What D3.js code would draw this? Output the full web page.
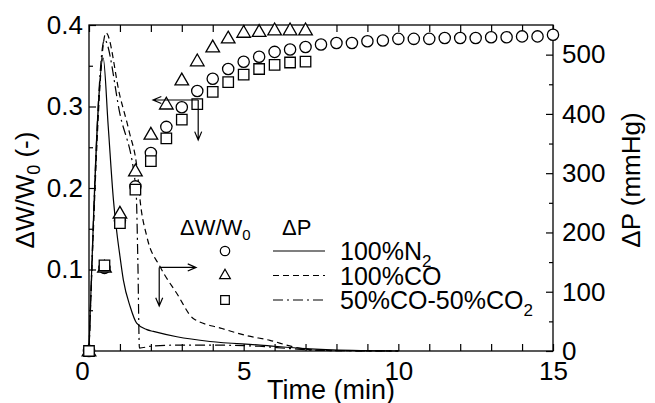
<!DOCTYPE html>
<html>
<head>
<meta charset="utf-8">
<script src="https://cdn.jsdelivr.net/npm/d3@7"></script>
<style>
  body { margin: 0; background: #fff; }
  text { font-family: "Liberation Sans", Arial, sans-serif; fill: #000; font-weight: normal; }
</style>
</head>
<body>
<div id="chart"></div>
<script>
// weight change markers, sampled every 0.5 min
var timeN2 = d3.range(0, 15.01, 0.5);
var wN2 = [0, 0.102, 0.16, 0.202, 0.243, 0.275, 0.299, 0.319, 0.334, 0.346, 0.355, 0.361, 0.367, 0.370, 0.373,
    0.376, 0.378, 0.378, 0.380, 0.381, 0.383, 0.383, 0.383, 0.384, 0.384, 0.384, 0.385, 0.385, 0.386, 0.386, 0.388];
var timeCO = d3.range(0, 7.01, 0.5);
var wCO = [0, 0.103, 0.169, 0.221, 0.266, 0.303, 0.3325, 0.356, 0.373, 0.384, 0.391, 0.392, 0.394, 0.394, 0.394];
var timeMix = d3.range(0, 7.01, 0.5);
var wMix = [0, 0.105, 0.157, 0.198, 0.233, 0.261, 0.284, 0.303, 0.318, 0.330, 0.339, 0.346, 0.351, 0.354, 0.355];

// pressure curves (mmHg)
var pN2Time = [0, 0.46, 0.62, 0.79, 0.9, 1.0, 1.11, 1.33, 1.54, 1.87, 2.08, 2.84, 3.91, 5.53, 7, 8.5, 10];
var pN2 = [0, 494, 380, 255, 200, 160, 120, 75, 47, 36, 33, 24, 16, 10, 4, 1, 0];
var pCOTime = [0, 0.55, 1.0, 1.3, 1.57, 1.65, 1.87, 2.3, 2.84, 3.37, 4.3, 5.1, 5.85, 6.6, 7.5, 10];
var pCO = [0, 537, 430, 370, 300, 255, 193, 142, 97, 55, 38, 26, 18, 7, 1, 0];
var pMixTime = [0, 0.5, 1.0, 1.52, 1.58, 1.63, 2.0, 3, 4, 5, 5.5, 6.5, 7.5, 10];
var pMix = [0, 525, 400, 272, 150, 5, 8, 10, 10, 9, 8, 4, 1, 0];

// tick values
var xTicks = [0, 5, 10, 15];
var wTicks = [0.1, 0.2, 0.3, 0.4];
var pTicks = [0, 100, 200, 300, 400, 500];

// legend
var legendNames = ["100%N", "100%CO", "50%CO-50%CO"];
var legendSubs = ["2", "", "2"];

// arrows, in data units: corner, then horizontal end t and vertical end value
var arrowW = { t: 3.53, w: 0.308, tEnd: 2.07, wEnd: 0.259 };
var arrowP = { t: 2.27, p: 141, tEnd: 3.46, pEnd: 76 };

var margin = { top: 25, right: 102, bottom: 52, left: 89 };
var svgWidth = 655, svgHeight = 403;
var width = svgWidth - margin.left - margin.right;
var height = svgHeight - margin.top - margin.bottom;

var svg = d3.select("#chart").append("svg")
    .attr("width", svgWidth)
    .attr("height", svgHeight);

var chartGroup = svg.append("g")
    .attr("transform", `translate(${margin.left}, ${margin.top})`);

var x = d3.scaleLinear().domain([0, 15]).range([0, width]);
var yW = d3.scaleLinear().domain([0, 0.4]).range([height, 0]);
var yP = d3.scaleLinear().domain([0, 550]).range([height, 0]);

var fs = 26;

// axes with inward ticks
function styleAxis(g) {
    g.select(".domain").remove();
    g.selectAll("line").attr("stroke", "#000").attr("stroke-width", 1.2);
    g.selectAll("text").style("font-size", fs + "px").attr("fill", "#000");
}

chartGroup.append("g")
    .attr("transform", `translate(0, ${height})`)
    .call(d3.axisBottom(x).tickValues(d3.range(0, 16, 1)).tickSize(-7).tickFormat(""))
    .call(styleAxis);
var xLabels = chartGroup.append("g")
    .attr("transform", `translate(0, ${height})`)
    .call(d3.axisBottom(x).tickValues(xTicks).tickSize(0).tickPadding(11))
    .call(styleAxis);
// the shared zero sits a little left of the corner
xLabels.selectAll("text").filter(d => d === 0).attr("x", -7);
chartGroup.append("g")
    .call(d3.axisTop(x).tickValues(d3.range(0, 16, 1)).tickSize(-7).tickFormat(""))
    .call(styleAxis);

chartGroup.append("g")
    .call(d3.axisLeft(yW).tickValues(d3.range(0.05, 0.4, 0.1)).tickSize(-4).tickFormat(""))
    .call(styleAxis);
chartGroup.append("g")
    .call(d3.axisLeft(yW).tickValues(wTicks).tickSize(-7).tickPadding(6).tickFormat(d3.format(".1f")))
    .call(styleAxis);

chartGroup.append("g")
    .attr("transform", `translate(${width}, 0)`)
    .call(d3.axisRight(yP).tickValues(d3.range(50, 550, 100)).tickSize(-4).tickFormat(""))
    .call(styleAxis);
chartGroup.append("g")
    .attr("transform", `translate(${width}, 0)`)
    .call(d3.axisRight(yP).tickValues(pTicks).tickSize(-7).tickPadding(9))
    .call(styleAxis);

// frame
chartGroup.append("rect")
    .attr("width", width).attr("height", height)
    .attr("fill", "none").attr("stroke", "#000").attr("stroke-width", 1.3);

// pressure lines
var dashN2 = null, dashCO = "6,4", dashMix = "10,4,2,4";
var pLine = d3.line()
    .x(d => x(d[0]))
    .y(d => yP(d[1]))
    .curve(d3.curveMonotoneX);

var pSeries = [
    { pts: d3.zip(pN2Time, pN2), dash: dashN2 },
    { pts: d3.zip(pCOTime, pCO), dash: dashCO },
    { pts: d3.zip(pMixTime, pMix), dash: dashMix }
];
pSeries.forEach(function(s) {
    chartGroup.append("path")
        .attr("d", pLine(s.pts))
        .attr("fill", "none")
        .attr("stroke", "#000")
        .attr("stroke-width", 1.2)
        .attr("stroke-dasharray", s.dash);
});

// markers
var circleSym = d3.symbol().type(d3.symbolCircle).size(100);
var triSym = d3.symbol().type(d3.symbolTriangle).size(80);
var sqSym = d3.symbol().type(d3.symbolSquare).size(110);

function drawMarkers(times, vals, sym, dyOff) {
    chartGroup.append("g").selectAll("path")
        .data(d3.zip(times, vals))
        .enter().append("path")
        .attr("d", sym)
        .attr("transform", d => `translate(${x(d[0])}, ${yW(d[1]) + dyOff})`)
        .attr("fill", "#fff")
        .attr("stroke", "#000")
        .attr("stroke-width", 1.3);
}
drawMarkers(timeN2, wN2, circleSym, 0);
drawMarkers(timeCO, wCO, triSym, 1);
drawMarkers(timeMix, wMix, sqSym, 0);

// arrows
function arrow(x1, y1, x2, y2) {
    var a = Math.atan2(y2 - y1, x2 - x1), L = 9, h = 0.4;
    chartGroup.append("path")
        .attr("d", `M${x1},${y1}L${x2},${y2}` +
            `M${x2 - L * Math.cos(a - h)},${y2 - L * Math.sin(a - h)}L${x2},${y2}` +
            `L${x2 - L * Math.cos(a + h)},${y2 - L * Math.sin(a + h)}`)
        .attr("fill", "none").attr("stroke", "#000").attr("stroke-width", 1.2);
}
arrow(x(arrowW.t), yW(arrowW.w), x(arrowW.tEnd), yW(arrowW.w));
arrow(x(arrowW.t), yW(arrowW.w), x(arrowW.t), yW(arrowW.wEnd));
arrow(x(arrowP.t), yP(arrowP.p), x(arrowP.tEnd), yP(arrowP.p));
arrow(x(arrowP.t), yP(arrowP.p), x(arrowP.t), yP(arrowP.pEnd));

// legend
var legend = svg.append("g").attr("transform", "translate(180, 235)");
var head = legend.append("text").style("font-size", "22px");
head.append("tspan").text("\u0394W/W");
head.append("tspan").attr("dy", 5).style("font-size", "15px").text("0");
legend.append("text").attr("x", 102).style("font-size", "22px").text("\u0394P");

var legSyms = [d3.symbol().type(d3.symbolCircle).size(70), d3.symbol().type(d3.symbolTriangle).size(50),
    d3.symbol().type(d3.symbolSquare).size(75)];
var legDash = [dashN2, dashCO, dashMix];
legendNames.forEach(function(name, i) {
    var cy = 16 + i * 24.5;
    legend.append("path")
        .attr("d", legSyms[i])
        .attr("transform", `translate(45, ${cy})`)
        .attr("fill", "#fff").attr("stroke", "#000").attr("stroke-width", 1.2);
    legend.append("line")
        .attr("x1", 93).attr("x2", 145).attr("y1", cy).attr("y2", cy)
        .attr("stroke", "#000").attr("stroke-width", 1.2)
        .attr("stroke-dasharray", legDash[i]);
    var t = legend.append("text").attr("x", 160).attr("y", cy + 9).style("font-size", "25px");
    t.append("tspan").text(name);
    if (legendSubs[i]) t.append("tspan").attr("dy", 7).style("font-size", "17px").text(legendSubs[i]);
});

// axis titles
var yTitle = svg.append("text")
    .attr("transform", "translate(34, 190) rotate(-90)")
    .attr("text-anchor", "middle")
    .style("font-size", fs + "px");
yTitle.append("tspan").text("\u0394W/W");
yTitle.append("tspan").attr("dy", 6).style("font-size", "18px").text("0");
yTitle.append("tspan").attr("dy", -6).text(" (-)");

svg.append("text")
    .attr("transform", "translate(640, 180) rotate(-90)")
    .attr("text-anchor", "middle")
    .style("font-size", fs + "px")
    .text("\u0394P (mmHg)");

svg.append("text")
    .attr("x", 331).attr("y", 399)
    .attr("text-anchor", "middle")
    .style("font-size", "27px")
    .text("Time (min)");
</script>
</body>
</html>
